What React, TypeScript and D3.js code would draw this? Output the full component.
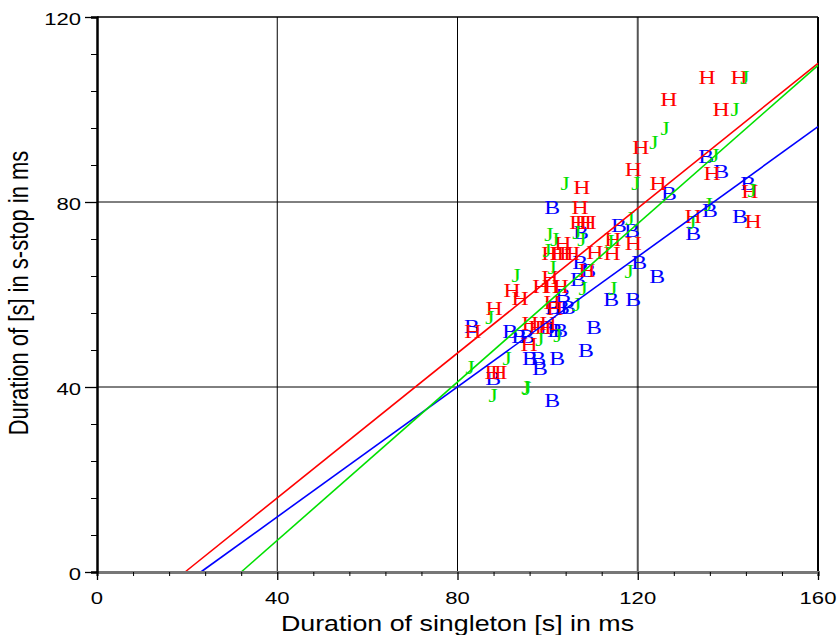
import React, { useEffect, useRef } from 'react';
import * as d3 from 'd3';

// H speakers (red)
const hX = [135.4, 142.5, 126.9, 138.5, 120.7, 119.0, 136.5, 124.5, 107.6, 144.9, 107.2, 132.3, 145.6, 106.7, 107.9, 109.0, 114.5, 119.0, 103.4, 100.5, 102.3, 103.9, 105.4, 110.5, 114.3, 108.7, 100.5, 92.1, 93.9, 98.5, 101.0, 102.8, 101.0, 101.6, 88.1, 83.4, 96.1, 97.6, 99.0, 100.1, 95.9, 87.9, 89.2];
const hY = [107.0, 107.0, 102.1, 100.1, 91.9, 87.1, 86.3, 84.1, 83.2, 82.2, 78.9, 77.0, 75.9, 75.7, 75.7, 75.7, 72.0, 71.1, 71.1, 69.0, 69.0, 69.0, 69.0, 69.2, 69.0, 65.3, 63.8, 61.0, 59.2, 61.8, 61.8, 61.8, 58.4, 56.9, 57.1, 52.1, 53.8, 53.0, 53.0, 53.8, 49.3, 43.2, 43.2];

// J speakers (green)
const jX = [143.8, 141.6, 126.1, 123.6, 119.6, 103.9, 137.1, 145.4, 135.6, 132.0, 118.3, 100.3, 101.6, 106.5, 107.6, 113.8, 99.9, 101.0, 118.1, 93.0, 107.9, 114.5, 106.5, 87.2, 102.3, 98.3, 91.0, 82.8, 95.2, 95.4, 87.9];
const jY = [107.0, 100.1, 96.0, 93.0, 84.1, 84.1, 90.0, 82.6, 79.4, 75.7, 76.5, 73.1, 72.0, 73.5, 72.0, 71.4, 69.6, 65.9, 65.1, 64.2, 61.4, 61.4, 57.9, 55.1, 51.2, 50.2, 46.1, 44.3, 40.0, 39.8, 38.3];

// B speakers (blue)
const bX = [101.0, 126.9, 144.5, 135.2, 138.5, 115.8, 118.7, 107.4, 136.0, 142.7, 132.3, 107.2, 120.3, 109.0, 124.3, 106.7, 103.4, 114.1, 119.0, 101.2, 103.2, 104.5, 110.3, 83.2, 91.7, 93.7, 95.4, 99.9, 101.6, 102.8, 108.5, 96.1, 97.9, 98.3, 102.1, 87.9, 101.0];
const bY = [78.9, 81.9, 84.1, 89.9, 86.7, 75.0, 73.9, 73.5, 78.3, 77.0, 73.3, 67.0, 67.0, 65.3, 64.0, 63.2, 59.9, 59.0, 59.0, 57.3, 57.3, 57.3, 53.0, 53.2, 52.1, 51.0, 51.0, 53.0, 52.3, 52.3, 48.0, 46.3, 46.3, 44.1, 46.3, 41.9, 37.2];

// regression lines: H, B, J
const lineNames = ['H', 'B', 'J'];
const lineSlopes = [0.783, 0.703, 0.856];
const lineIntercepts = [-15.3, -16.2, -27.4];
const lineColors = ['#ff0000', '#0000ff', '#00e000'];

const xTicks = [0, 40, 80, 120, 160];
const yTicks = [0, 40, 80, 120];

const sans = '"Liberation Sans", Arial, sans-serif';
const serif = '"Liberation Serif", "Times New Roman", serif';
const stretch = 1.22; // the source picture is a bit wider than tall

const App = () => {
  const ref = useRef<SVGSVGElement | null>(null);

  useEffect(() => {
    drawChart();
  }, []);

  const drawChart = () => {
    const svg = d3.select(ref.current);
    svg.selectAll('*').remove();

    const margin = { top: 17, left: 97 };
    const width = 818 - margin.left;
    const height = 572 - margin.top;

    const g = svg.append('g')
      .attr('transform', `translate(${margin.left}, ${margin.top})`);

    const x = d3.scaleLinear().domain([0, 160]).range([0, width]);
    const y = d3.scaleLinear().domain([0, 120]).range([height, 0]);

    // grid
    g.selectAll('.vgrid')
      .data(xTicks.slice(1))
      .enter().append('line')
      .attr('x1', d => x(d)).attr('x2', d => x(d))
      .attr('y1', 0).attr('y2', height)
      .attr('stroke', d => d === 120 ? '#555' : '#000')
      .attr('stroke-width', d => d === 120 ? 2 : d === 160 ? 2 : 1);

    g.selectAll('.hgrid')
      .data(yTicks.slice(1))
      .enter().append('line')
      .attr('x1', 0).attr('x2', width)
      .attr('y1', d => y(d)).attr('y2', d => y(d))
      .attr('stroke', '#000')
      .attr('stroke-width', d => d === 120 ? 1.5 : 1);

    // letters
    const drawLetters = (xs: number[], ys: number[], letter: string, color: string) => {
      g.append('g').selectAll('text')
        .data(xs.map((v, i) => [v, ys[i]]))
        .enter().append('text')
        .attr('transform', d => `translate(${x(d[0])}, ${y(d[1])}) scale(${stretch}, 1)`)
        .attr('dy', '0.34em')
        .attr('text-anchor', 'middle')
        .attr('font-family', serif)
        .attr('font-size', 19.5)
        .attr('fill', color)
        .text(letter);
    };
    drawLetters(bX, bY, 'B', '#0000ff');
    drawLetters(hX, hY, 'H', '#ff0000');
    drawLetters(jX, jY, 'J', '#00e000');

    // regression lines
    lineNames.forEach((n, i) => {
      const a = lineSlopes[i];
      const b = lineIntercepts[i];
      const x0 = -b / a;
      g.append('line')
        .attr('x1', x(x0)).attr('y1', y(0))
        .attr('x2', x(160)).attr('y2', y(a * 160 + b))
        .attr('stroke', lineColors[i])
        .attr('stroke-width', 1.6);
    });

    // x axis
    const xAxis = g.append('g')
      .attr('transform', `translate(0, ${height})`)
      .call(d3.axisBottom(x).tickValues(d3.range(0, 161, 8)).tickSize(4).tickFormat(() => ''));
    xAxis.select('.domain').attr('stroke', '#777').attr('stroke-width', 3);
    xAxis.selectAll('.tick line').attr('stroke', '#000');
    xAxis.selectAll('.tick')
      .filter((d: any) => xTicks.includes(d))
      .select('line').attr('y2', 8).attr('stroke-width', 1.3);
    g.append('g').selectAll('text')
      .data(xTicks)
      .enter().append('text')
      .attr('transform', d => `translate(${x(d)}, ${height + 32}) scale(1.3, 1)`)
      .attr('text-anchor', 'middle')
      .attr('font-family', sans)
      .attr('font-size', 17)
      .attr('fill', '#000')
      .text(d => d);

    // y axis
    const yAxis = g.append('g')
      .call(d3.axisLeft(y).tickValues(d3.range(0, 121, 8)).tickSize(6).tickFormat(() => ''));
    yAxis.select('.domain').attr('stroke', '#000').attr('stroke-width', 2.5);
    yAxis.selectAll('.tick line').attr('stroke', '#000');
    yAxis.selectAll('.tick')
      .filter((d: any) => yTicks.includes(d))
      .select('line').attr('x2', -12).attr('stroke-width', 1.3);
    g.append('g').selectAll('text')
      .data(yTicks)
      .enter().append('text')
      .attr('transform', d => `translate(-16, ${y(d) + 2}) scale(1.3, 1)`)
      .attr('dy', '0.35em')
      .attr('text-anchor', 'end')
      .attr('font-family', sans)
      .attr('font-size', 17)
      .attr('fill', '#000')
      .text(d => d);

    // axis titles
    svg.append('text')
      .attr('transform', `translate(${margin.left + width / 2}, 631) scale(${stretch}, 1)`)
      .attr('text-anchor', 'middle')
      .attr('font-family', sans)
      .attr('font-size', 22)
      .attr('fill', '#000')
      .text('Duration of singleton [s] in ms');

    svg.append('text')
      .attr('transform', `translate(28, 293) rotate(-90) scale(1, ${stretch})`)
      .attr('text-anchor', 'middle')
      .attr('font-family', sans)
      .attr('font-size', 22)
      .attr('fill', '#000')
      .text('Duration of [s] in s-stop in ms');
  };

  return (
    <svg ref={ref} width={838} height={635}
      style={{ position: 'absolute', left: 0, top: 0, background: '#fff' }} />
  );
};

export default App;
